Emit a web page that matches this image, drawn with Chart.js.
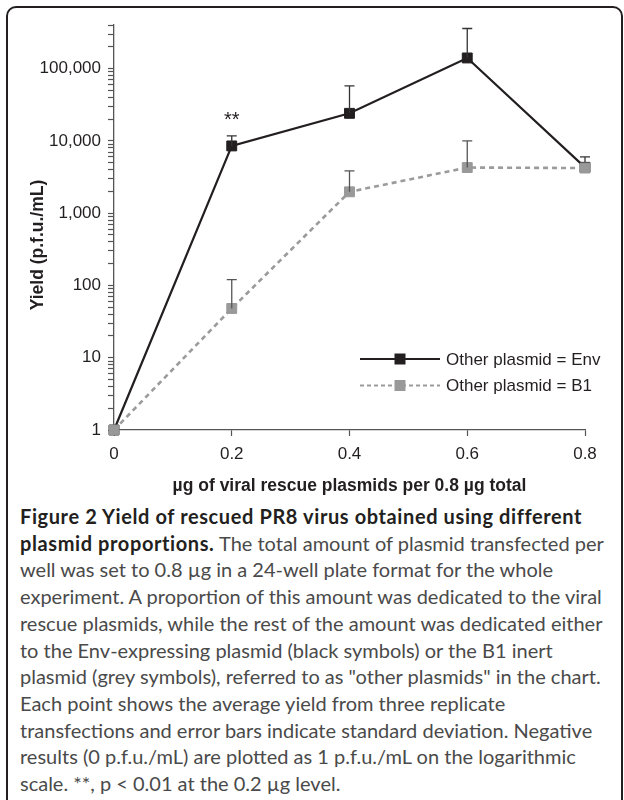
<!DOCTYPE html>
<html>
<head>
<meta charset="UTF-8">
<script src="https://cdn.jsdelivr.net/npm/chart.js"></script>
<title>Figure 2</title>
<style>
  body { margin: 0; width: 624px; height: 800px; background: #fff; position: relative; overflow: hidden; }
  .frame { position: absolute; left: 6px; top: 6px; width: 617px; height: 830px; border: 2px solid #231f20; border-radius: 10px; box-sizing: border-box; }
  .plot { position: absolute; left: 0; top: 0; width: 624px; height: 500px; }
  .caption { position: absolute; left: 20px; top: 503px; font-family: Lato, sans-serif; font-size: 20px; line-height: 26.7px; color: #4a4a4a; white-space: nowrap; }
  .caption b { color: #231f20; letter-spacing: 0.6px; }
</style>
</head>
<body>
<div class="frame"></div>
<div class="plot"><canvas id="yield" width="624" height="500"></canvas></div>
<div class="caption">
<b>Figure 2 Yield of rescued PR8 virus obtained using different</b><br>
<b>plasmid proportions.</b> The total amount of plasmid transfected per<br>
well was set to 0.8 µg in a 24-well plate format for the whole<br>
experiment. A proportion of this amount was dedicated to the viral<br>
rescue plasmids, while the rest of the amount was dedicated either<br>
to the Env-expressing plasmid (black symbols) or the B1 inert<br>
plasmid (grey symbols), referred to as "other plasmids" in the chart.<br>
Each point shows the average yield from three replicate<br>
transfections and error bars indicate standard deviation. Negative<br>
results (0 p.f.u./mL) are plotted as 1 p.f.u./mL on the logarithmic<br>
scale. **, p&nbsp;&lt;&nbsp;0.01 at the 0.2 µg level.
</div>

<script>
// data
const xLabels = ['0', '0.2', '0.4', '0.6', '0.8'];
const envMean = [1, 8500, 24000, 140000, 4300];
const envSD   = [0, 3200, 33500, 218000, 1700];
const b1Mean  = [1, 48, 1970, 4270, 4200];
const b1SD    = [0, 72, 1880, 5730, 0];
const yMajor  = [1, 10, 100, 1000, 10000, 100000];
const yLabels = ['1', '10', '100', '1,000', '10,000', '100,000'];
const yMax = 400000;

const axisColor = '#555';
const ink = '#231f20';
const tickFont = { family: 'Liberation Sans', size: 17 };

// upward error bars, drawn right after their own dataset
const errorBars = {
  id: 'errorBars',
  afterDatasetDraw(chart, args) {
    const ds = chart.data.datasets[args.index];
    if (!ds.sd) return;
    const c = chart.ctx, xs = chart.scales.x, ys = chart.scales.y;
    c.save();
    c.strokeStyle = ds.errColor;
    c.lineWidth = 1.3;
    ds.data.forEach((v, i) => {
      if (!ds.sd[i]) return;
      const x = xs.getPixelForValue(i);
      const y0 = ys.getPixelForValue(v);
      const y1 = ys.getPixelForValue(v + ds.sd[i]);
      c.beginPath();
      c.moveTo(x, y0); c.lineTo(x, y1);
      c.moveTo(x - 5, y1); c.lineTo(x + 5, y1);
      c.stroke();
    });
    c.restore();
  }
};

// axis titles, legend and significance mark
const extras = {
  id: 'extras',
  afterDraw(chart) {
    const c = chart.ctx, a = chart.chartArea;
    const xs = chart.scales.x, ys = chart.scales.y;
    c.save();
    c.fillStyle = ink;
    c.font = 'bold 17.5px "Liberation Sans"';
    c.textAlign = 'center';
    c.textBaseline = 'middle';
    c.fillText('µg of viral rescue plasmids per 0.8 µg total', (a.left + a.right) / 2, 486);
    c.save();
    c.translate(38, 245);
    c.rotate(-Math.PI / 2);
    c.fillText('Yield (p.f.u./mL)', 0, 0);
    c.restore();

    // **
    c.font = '20px "Liberation Sans"';
    c.textBaseline = 'alphabetic';
    c.fillText('**', xs.getPixelForValue(1), ys.getPixelForValue(envMean[1] + envSD[1]) - 10);

    // legend
    const lx = a.right - 225;
    chart.data.datasets.slice().sort((p, q) => q.order - p.order).forEach((ds, k) => {
      const y = 359 + k * 26.5;
      c.strokeStyle = ds.borderColor;
      c.lineWidth = ds.legendWidth;
      c.setLineDash(ds.legendDash);
      c.beginPath();
      c.moveTo(lx, y); c.lineTo(lx + 80, y);
      c.stroke();
      c.setLineDash([]);
      c.fillStyle = ds.pointBackgroundColor;
      c.fillRect(lx + 40 - 5.5, y - 5.5, 11, 11);
      c.fillStyle = ink;
      c.font = '17px "Liberation Sans"';
      c.textAlign = 'left';
      c.textBaseline = 'middle';
      c.fillText(ds.label, lx + 86, y + 1);
    });
    c.restore();
  }
};

new Chart(document.getElementById('yield'), {
  type: 'line',
  data: {
    labels: xLabels,
    datasets: [{
      label: 'Other plasmid = Env',
      data: envMean,
      sd: envSD,
      order: 2,
      errColor: '#333',
      borderColor: ink,
      borderWidth: 2.2,
      pointStyle: 'rect',
      pointRadius: 7,
      pointBorderWidth: 1,
      pointBackgroundColor: ink,
      pointBorderColor: ink,
      legendWidth: 2,
      legendDash: [],
      clip: false
    }, {
      label: 'Other plasmid = B1',
      data: b1Mean,
      sd: b1SD,
      order: 1,
      errColor: '#555',
      borderColor: '#9b9b9b',
      borderWidth: 2.6,
      borderDash: [5, 4],
      pointStyle: 'rect',
      pointRadius: 7,
      pointBorderWidth: 1,
      pointBackgroundColor: '#999',
      pointBorderColor: '#999',
      legendWidth: 2,
      legendDash: [4, 3],
      clip: false
    }]
  },
  options: {
    responsive: false,
    animation: false,
    layout: { padding: { top: 25, right: 39, left: 0, bottom: 0 } },
    plugins: { legend: { display: false }, tooltip: { enabled: false } },
    scales: {
      x: {
        type: 'category',
        offset: false,
        z: 1,
        afterFit: s => { s.height = 70; },
        ticks: { font: tickFont, color: ink, padding: 8, maxRotation: 0 },
        grid: { drawOnChartArea: false, tickLength: 6, tickColor: axisColor, tickWidth: 1.2 },
        border: { color: axisColor, width: 1.3 }
      },
      y: {
        type: 'logarithmic',
        min: 1,
        max: yMax,
        z: 1,
        afterBuildTicks: s => {
          const t = [];
          yMajor.forEach(m => {
            for (let k = 1; k <= 9; k++) if (m * k <= yMax) t.push({ value: m * k });
          });
          s.ticks = t;
        },
        afterFit: s => { s.width = 114; },
        ticks: {
          autoSkip: false,
          font: tickFont,
          color: ink,
          padding: 7,
          callback: v => { const i = yMajor.indexOf(v); return i >= 0 ? yLabels[i] : ''; }
        },
        grid: { drawOnChartArea: false, tickLength: 6, tickColor: axisColor, tickWidth: 1.2 },
        border: { color: axisColor, width: 1.3 }
      }
    }
  },
  plugins: [errorBars, extras]
});
</script>
</body>
</html>
